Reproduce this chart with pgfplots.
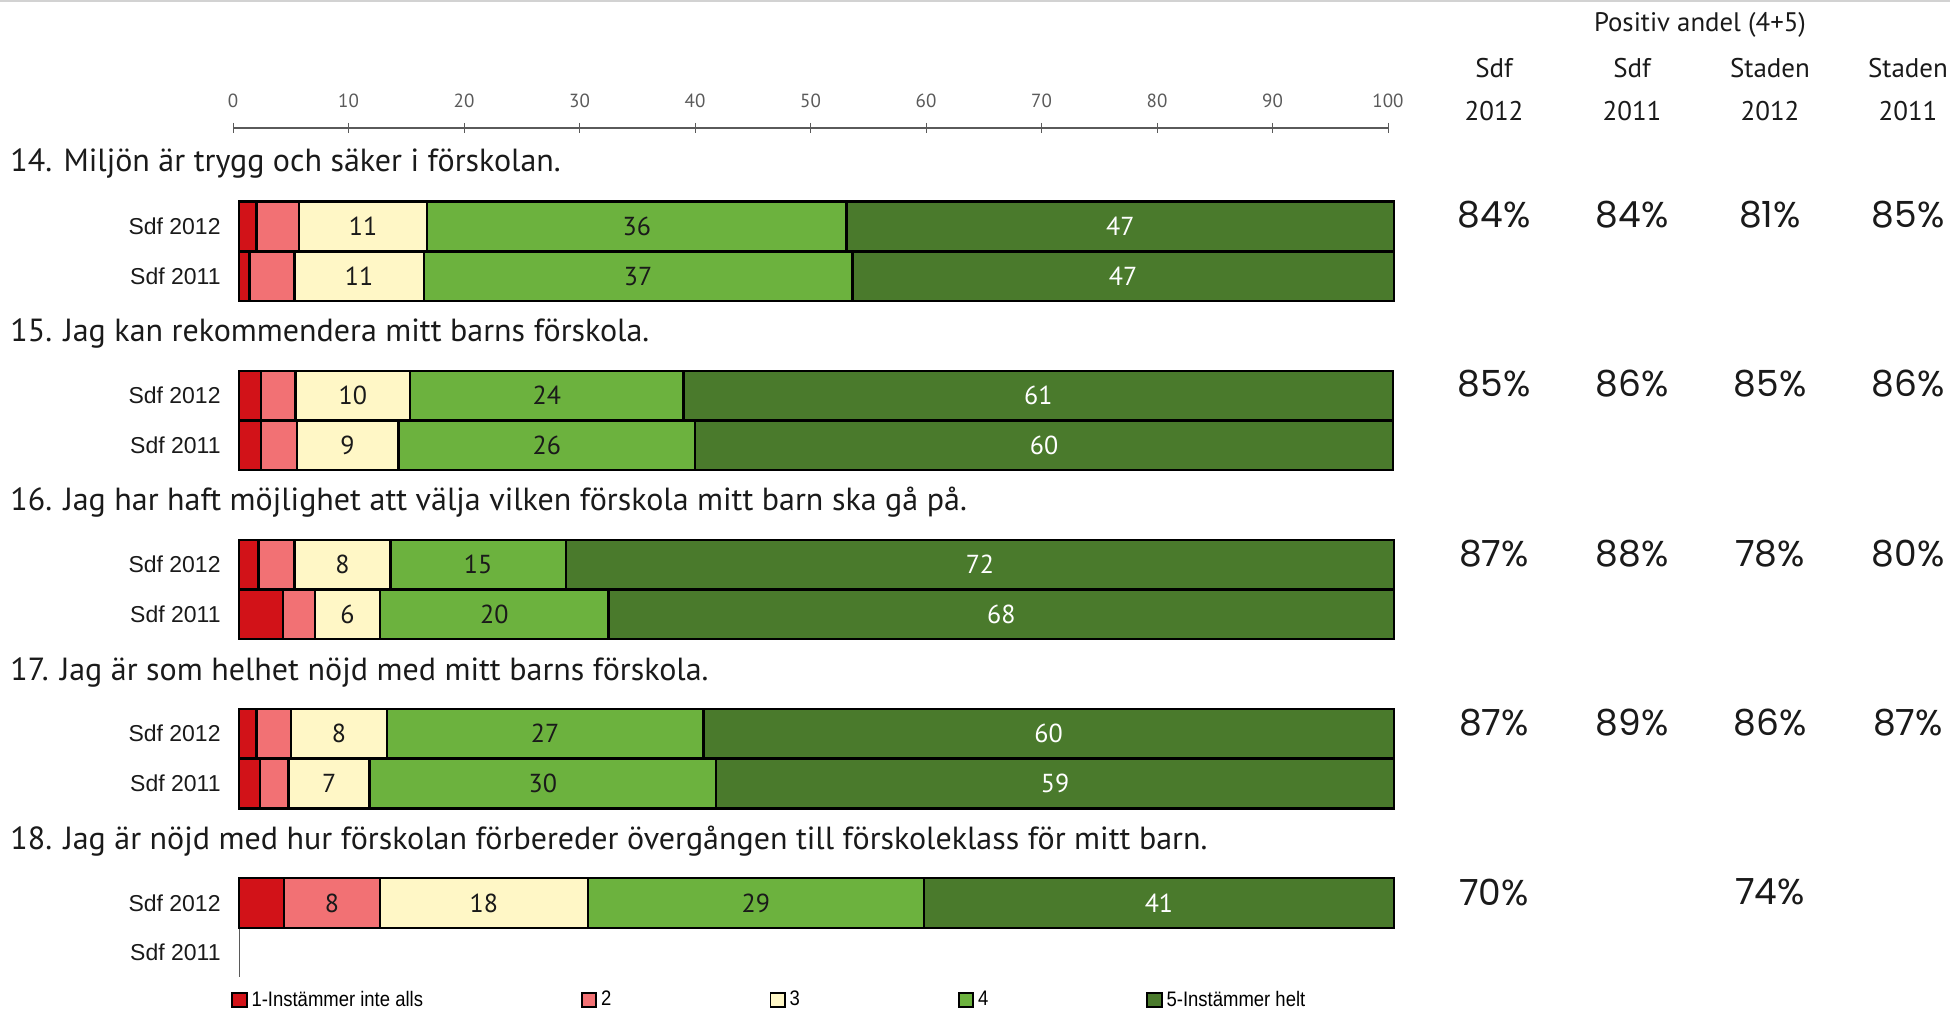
\documentclass[border=0pt]{standalone}
\usepackage{pgfplots}
\pgfplotsset{compat=1.18}
\usepackage{pgfplotstable}
\usepackage{fontspec}
\setmainfont{PT Sans}
\newfontfamily\pctfont{Poppins}
\newfontfamily\arialfont{Liberation Sans}
\newfontfamily\narrowfont[FakeStretch=0.88]{Liberation Sans}

\definecolor{c1}{RGB}{210,18,24}
\definecolor{c2}{RGB}{242,113,116}
\definecolor{c3}{RGB}{255,247,198}
\definecolor{c4}{RGB}{108,178,62}
\definecolor{c5}{RGB}{74,122,44}
\definecolor{txt}{RGB}{26,26,26}
\definecolor{axgray}{RGB}{90,90,90}

% y = bar centre (px from top), v1..v5 = shares of answers 1..5
\pgfplotstableread{
y     v1  v2  v3   v4   v5
226.3 1.5 3.7 11.1 36.3 47.4
276.1 0.9 3.9 11.2 37.1 46.9
395.5 1.9 3.0 9.9  23.7 61.4
445.2 1.9 3.1 8.8  25.7 60.4
564.6 1.7 3.1 8.3  15.2 71.7
614.4 3.8 2.8 5.6  19.8 68.0
733.7 1.5 3.0 8.3  27.4 59.8
783.5 1.8 2.5 7.0  30.0 58.7
902.9 3.9 8.3 18.0 29.1 40.7
}\bars

\begin{document}
\begin{tikzpicture}

% top scale
\begin{axis}[
    at={(116.5pt,-66pt)}, anchor=south west,
    scale only axis, width=577.5pt, height=2pt,
    xmin=0, xmax=100, ymin=0, ymax=1,
    axis x line=top, axis y line=none,
    x axis line style={-, axgray, line width=0.6pt},
    xtick={0,10,...,100}, ytick=\empty,
    xtick align=center, major tick length=5pt,
    tick style={axgray, line width=0.5pt},
    xticklabel style={font=\fontsize{9.5}{11}\selectfont, text=axgray, yshift=4pt},
    /pgf/number format/assume math mode=true,
]
\end{axis}

% bars
\begin{axis}[
    at={(119.5pt,0pt)}, anchor=north west,
    scale only axis, width=577.5pt, height=505.5pt,
    xmin=0, xmax=100, ymin=0, ymax=1011, y dir=reverse,
    axis lines=none, clip=false,
    xbar stacked, bar width=49.6,
    /pgf/number format/assume math mode=true,
    every axis plot/.append style={draw=black, line width=1.2pt},
    every node near coord/.append style={font=\fontsize{13}{15}\selectfont, text=txt},
    legend image code/.code={\draw[#1, draw=black, line width=0.9pt] (0pt,-3.6pt) rectangle (7.2pt,3.6pt);},
    legend columns=5,
    legend style={at={(axis cs:-0.7,1000)}, anchor=west, draw=none, fill=none,
        inner sep=0pt, font=\narrowfont\fontsize{10.5}{12}\selectfont,
        /tikz/every even column/.append style={column sep=77pt},
        nodes={inner xsep=2pt}},
]
\addplot[fill=c1] table[x=v1, y=y] {\bars};
\addplot[fill=c2, visualization depends on={\thisrow{v2} \as \segv},
    nodes near coords={\pgfmathtruncatemacro\shw{\segv>5}\ifnum\shw=1 \pgfmathprintnumber[fixed,precision=0]{\segv}\fi}]
    table[x=v2, y=y] {\bars};
\addplot[fill=c3, visualization depends on={\thisrow{v3} \as \segv},
    nodes near coords={\pgfmathprintnumber[fixed,precision=0]{\segv}}]
    table[x=v3, y=y] {\bars};
\addplot[fill=c4, visualization depends on={\thisrow{v4} \as \segv},
    nodes near coords={\pgfmathprintnumber[fixed,precision=0]{\segv}}]
    table[x=v4, y=y] {\bars};
\addplot[fill=c5, visualization depends on={\thisrow{v5} \as \segv},
    nodes near coords={\pgfmathprintnumber[fixed,precision=0]{\segv}},
    every node near coord/.append style={text=white}]
    table[x=v5, y=y] {\bars};
\legend{1-Instämmer inte alls, 2, 3, 4, 5-Instämmer helt}
\draw[axgray, line width=0.5pt] (axis cs:0,878) -- (axis cs:0,977);
\end{axis}

\begin{scope}[x=0.5pt, y=-0.5pt]
\draw[gray!35, line width=1pt] (0,1) -- (1950,1);
% question titles
\foreach \yy/\tt in {163/{14. Miljön är trygg och säker i förskolan.},
                     333/{15. Jag kan rekommendera mitt barns förskola.},
                     502/{16. Jag har haft möjlighet att välja vilken förskola mitt barn ska gå på.},
                     672/{17. Jag är som helhet nöjd med mitt barns förskola.},
                     841/{18. Jag är nöjd med hur förskolan förbereder övergången till förskoleklass för mitt barn.}}
  \node[anchor=west, inner sep=0pt, text=txt, font=\fontsize{16}{18}\selectfont] at (10,\yy) {\tt};
% row labels
\foreach \yy in {226.3,395.5,564.6,733.7,902.9}
  \node[anchor=east, inner sep=0pt, text=txt, font=\arialfont\fontsize{11.5}{13}\selectfont] at (221,\yy) {Sdf 2012};
\foreach \yy in {276.1,445.2,614.4,783.5,952.6}
  \node[anchor=east, inner sep=0pt, text=txt, font=\arialfont\fontsize{11.5}{13}\selectfont] at (221,\yy) {Sdf 2011};
% headers
\node[text=txt, font=\fontsize{13.4}{15}\selectfont] at (1700,25) {Positiv andel (4+5)};
\foreach \xx/\aa/\bb in {1494/Sdf/2012, 1632/Sdf/2011, 1770/Staden/2012, 1908/Staden/2011} {
  \node[text=txt, font=\fontsize{13.5}{15}\selectfont] at (\xx,68) {\aa};
  \node[text=txt, font=\fontsize{13.5}{15}\selectfont] at (\xx,111) {\bb};
}
% positive shares
\foreach \yy/\a/\b/\c/\d in {215/84/84/81/85, 384/85/86/85/86, 554/87/88/78/80, 723/87/89/86/87} {
  \node[text=txt, font=\pctfont\fontsize{18}{20}\selectfont] at (1494,\yy) {\a\%};
  \node[text=txt, font=\pctfont\fontsize{18}{20}\selectfont] at (1632,\yy) {\b\%};
  \node[text=txt, font=\pctfont\fontsize{18}{20}\selectfont] at (1770,\yy) {\c\%};
  \node[text=txt, font=\pctfont\fontsize{18}{20}\selectfont] at (1908,\yy) {\d\%};
}
\node[text=txt, font=\pctfont\fontsize{18}{20}\selectfont] at (1494,892) {70\%};
\node[text=txt, font=\pctfont\fontsize{18}{20}\selectfont] at (1770,892) {74\%};
\end{scope}

\pgfresetboundingbox
\path (0,0) rectangle (975pt,-505.5pt);
\end{tikzpicture}
\end{document}
